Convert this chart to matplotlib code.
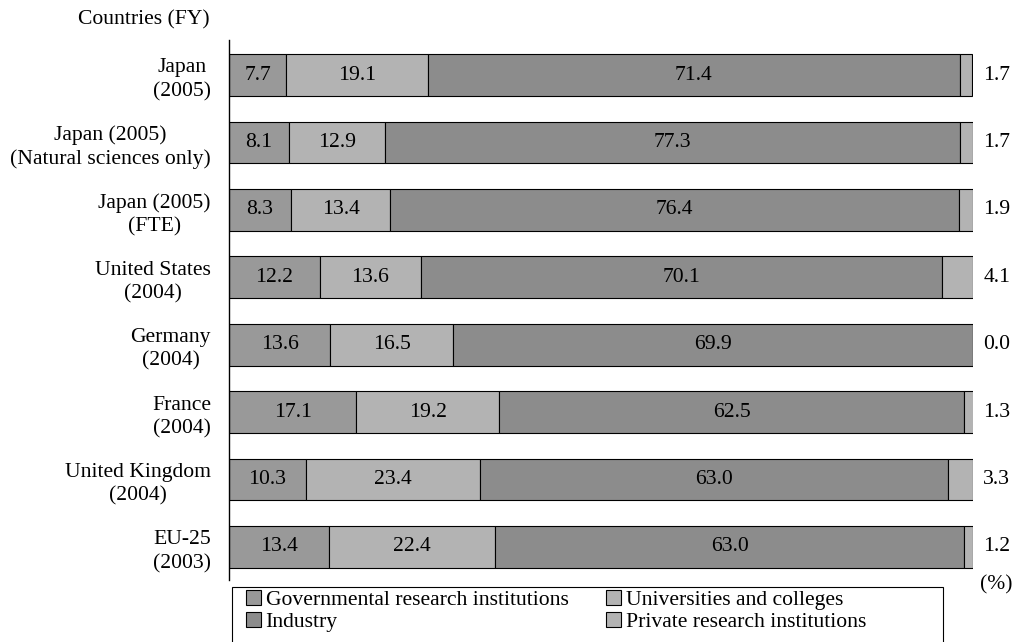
import numpy as np
import matplotlib.pyplot as plt
from matplotlib.patches import Rectangle

plt.rcParams['font.family'] = ['Liberation Serif', 'DejaVu Serif']
plt.rcParams['font.size'] = 15.6

### Data
countries = ['Japan\n(2005)', 'Japan (2005)\n(Natural sciences only)', 'Japan (2005)\n(FTE)',
             'United States\n(2004)', 'Germany\n(2004)', 'France\n(2004)',
             'United Kingdom\n(2004)', 'EU-25\n(2003)']
gov = [7.7, 8.1, 8.3, 12.2, 13.6, 17.1, 10.3, 13.4]
univ = [19.1, 12.9, 13.4, 13.6, 16.5, 19.2, 23.4, 22.4]
industry = [71.4, 77.3, 76.4, 70.1, 69.9, 62.5, 63.0, 63.0]
private = [1.7, 1.7, 1.9, 4.1, 0.0, 1.3, 3.3, 1.2]

names = ['Governmental research institutions', 'Universities and colleges',
         'Industry', 'Private research institutions']
colors = ['#999999', '#b3b3b3', '#8c8c8c', '#b3b3b3']

fig = plt.figure(figsize=(10.16, 6.42), dpi=100)
ax = fig.add_axes([229/1016, 1-580/642, 744/1016, 540/642])

y = np.arange(len(countries))
series = [gov, univ, industry, private]
left = np.zeros(len(countries))
bars = []
for vals, col, nm in zip(series, colors, names):
    b = ax.barh(y, vals, left=left, height=0.62, color=col, edgecolor='black',
                linewidth=0.8, label=nm)
    bars.append(b)
    left = left + np.array(vals)

### value labels inside the first three segments
left = np.zeros(len(countries))
for vals in series[:3]:
    for i, v in enumerate(vals):
        ax.text(left[i] + v/2, y[i], f'{v:.1f}', ha='center', va='center')
    left = left + np.array(vals)

### private institutions written outside on the right
for i, v in enumerate(private):
    ax.text(101.4, y[i], f'{v:.1f}', ha='left', va='center')

ax.set_xlim(0, 100)
ax.set_ylim(7.49, -0.52)
ax.set_yticks(y)
ax.set_yticklabels(countries, ha='right', multialignment='center', linespacing=1.32)
ax.tick_params(axis='y', length=0, pad=13)
ax.set_xticks([])
for s in ['top', 'right', 'bottom']:
    ax.spines[s].set_visible(False)
ax.spines['left'].set_linewidth(1.0)

fig.text(210/1016, 1-20/642, 'Countries (FY)', ha='right', va='center')
fig.text(996/1016, 1-585/642, '(%)', ha='center', va='center')

### legend (box drawn separately, it runs off the bottom of the figure)
fig.patches.append(Rectangle((232/1016, -0.05), (943-232)/1016, 0.05 + 1-587/642,
                             transform=fig.transFigure, fill=False,
                             edgecolor='black', linewidth=0.8))
order = [0, 2, 1, 3]
fig.legend(handles=[bars[k] for k in order], labels=[names[k] for k in order],
           ncol=2, loc='upper left',
           bbox_to_anchor=(246/1016, 1-590/642), frameon=False,
           handlelength=0.7, handleheight=0.7, handletextpad=0.2,
           columnspacing=1.75, labelspacing=0.08, borderpad=0.0,
           borderaxespad=0.0)

plt.savefig('out.png', dpi=100)
